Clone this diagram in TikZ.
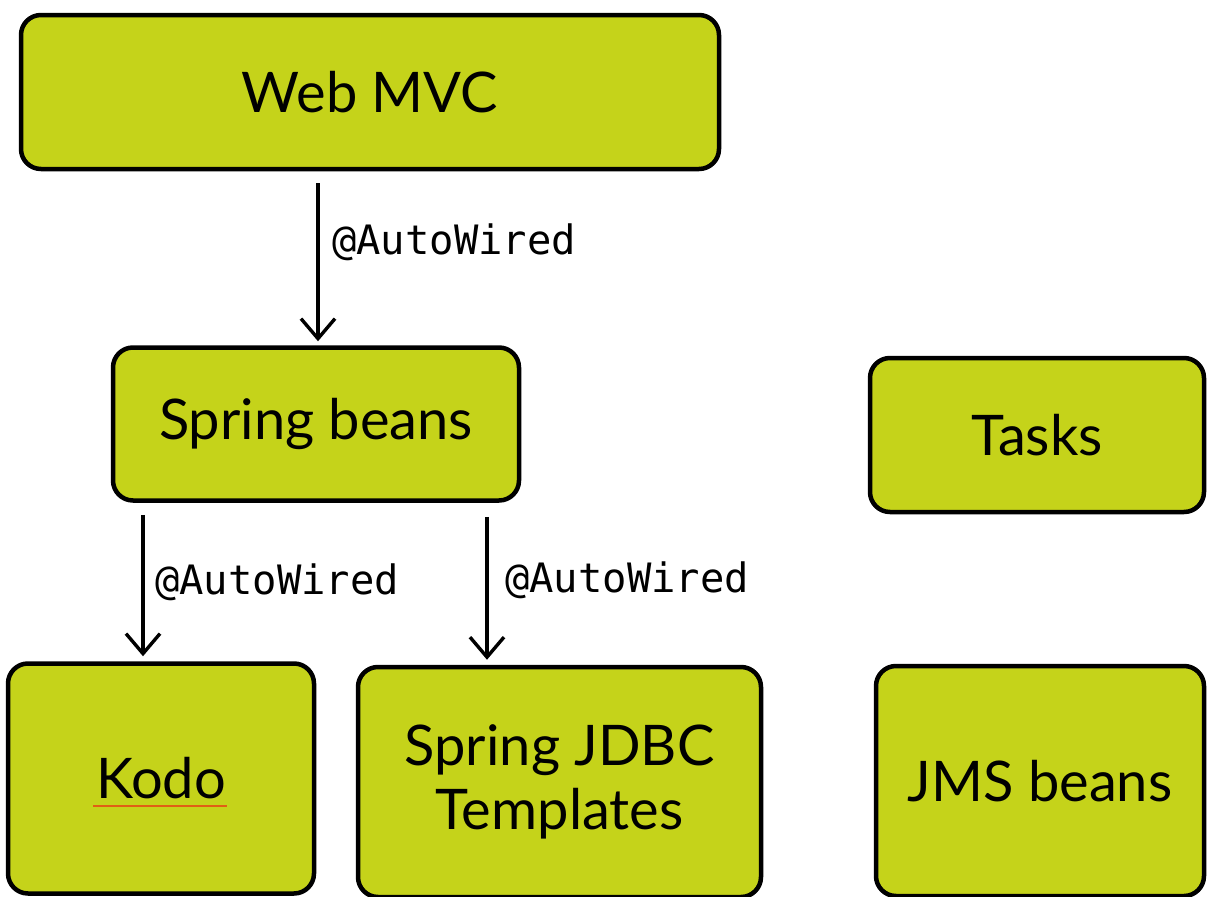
\documentclass[tikz,border=0pt]{standalone}
\usepackage{fontspec}
\setmainfont{Lato}
\setmonofont{DejaVu Sans Mono}
\usetikzlibrary{arrows.meta,calc}
\definecolor{boxgreen}{RGB}{197,211,26}
\definecolor{squiggle}{RGB}{225,95,20}
\begin{document}
\begin{tikzpicture}[x=1pt,y=-1pt,
  box/.style={draw=black, line width=4.5pt, fill=boxgreen, rounded corners=20pt,
    inner sep=0pt, align=center, font=\fontsize{56}{64}\selectfont},
  arr/.style={draw=black, line width=3.4pt, -{Straight Barb[length=20pt,width=34pt,line width=3.4pt]}},
  lbl/.style={anchor=west, inner sep=0pt, font=\ttfamily\fontsize{40.5}{44}\selectfont}]
\useasboundingbox (0,0) rectangle (1208,897);
\node[box, minimum width=698pt, minimum height=154pt] (web) at (370,92) {Web MVC};
\node[box, minimum width=406pt, minimum height=153pt] (beans) at (316,424) {Spring beans};
\node[box, minimum width=334pt, minimum height=154pt] (tasks) at (1037,435) {Tasks};
\node[box, minimum width=306pt, minimum height=230pt] (kodo) at (161,778.5) {Kodo};
\node[box, minimum width=403pt, minimum height=230pt] (jdbc) at (559.5,782) {Spring JDBC\\Templates};
\node[box, minimum width=328pt, minimum height=230pt] (jms) at (1040,781) {JMS beans};
\coordinate (a1) at (318,0);
\coordinate (a2) at (143,0);
\coordinate (a3) at (487,0);
\draw[arr, shorten <=12pt, shorten >=4pt] (web.south -| a1) -- (beans.north -| a1);
\draw[arr, shorten <=12pt, shorten >=5pt] (beans.south -| a2) -- (kodo.north -| a2);
\draw[arr, shorten <=14pt, shorten >=5pt] (beans.south -| a3) -- (jdbc.north -| a3);
\node[lbl] (l1) at (332,242) {@AutoWired};
\node[lbl] (l2) at (155,582) {@AutoWired};
\node[lbl] (l3) at (505,580) {@AutoWired};
\draw[squiggle, line width=2pt] ($(kodo.center)+(-68,27)$) -- ($(kodo.center)+(66,27)$);
\end{tikzpicture}
\end{document}
